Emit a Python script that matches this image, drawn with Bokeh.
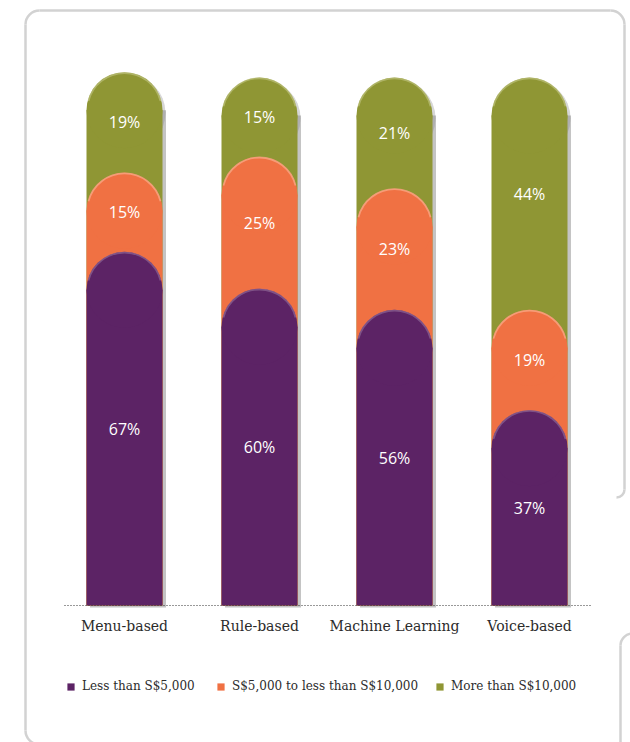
import numpy as np
from bokeh.plotting import figure
from bokeh.models import ColumnDataSource, Range1d, FixedTicker, Legend, LegendItem
from bokeh.core.properties import value
from bokeh.transform import dodge
from bokeh.embed import file_html
from bokeh.resources import INLINE

# ---------------- data ----------------
categories = ["Menu-based", "Rule-based", "Machine Learning", "Voice-based"]
less_than_5k = [67, 60, 56, 37]
from_5k_to_10k = [15, 25, 23, 19]
more_than_10k = [19, 15, 21, 44]
series_names = ["Less than S$5,000", "S$5,000 to less than S$10,000", "More than S$10,000"]

# ---------------- style ----------------
colors = ["#5C2365", "#F07143", "#8F9634"]
rim_colors = ["#9A79A3", "#FBC0A2", "#C9CC8E"]
FRAME_COLOR = "#d2d2d2"
W, H = 630, 742
PX_PER_PCT = 5.28
X_STEP = 135
BASE_PX = 605
FIRST_X_PX = 124

def px_x(px):
    return (px - FIRST_X_PX) / X_STEP

def px_y(py):
    return (BASE_PX - py) / PX_PER_PCT

n = len(categories)
idx = np.arange(n)
s1 = np.array(less_than_5k, dtype=float)
s2 = np.array(from_5k_to_10k, dtype=float)
s3 = np.array(more_than_10k, dtype=float)
cum1 = s1
cum2 = s1 + s2
cum3 = s1 + s2 + s3

bar_w = 76 / X_STEP
cap_ry = 38 / PX_PER_PCT

p = figure(width=W, height=H,
           x_range=Range1d(px_x(0), px_x(W)),
           y_range=Range1d(px_y(H), px_y(0)),
           output_backend="svg", toolbar_location=None, min_border=0)
p.background_fill_color = "white"
p.border_fill_color = "white"
p.outline_line_color = None
p.grid.visible = False
p.yaxis.visible = False

# ---- page frame (rounded panel border) ----
R = 14
L_, T_, R_, B_ = 25, 10, 624, 744
edges_px = [
    [(L_ + R, T_), (R_ - R, T_)],          # top
    [(L_, T_ + R), (L_, B_ - R)],          # left
    [(R_, T_ + R), (R_, 497 - 8)],         # right (upper panel)
    [(620, 645), (620, 760)],              # neighbouring panel edge
]
p.multi_line(xs=[[px_x(a[0]), px_x(b[0])] for a, b in edges_px],
             ys=[[px_y(a[1]), px_y(b[1])] for a, b in edges_px],
             line_color=FRAME_COLOR, line_width=2.5)
corners = [  # (cx, cy, r, start, end)
    (L_ + R, T_ + R, R, np.pi / 2, np.pi),
    (R_ - R, T_ + R, R, 0, np.pi / 2),
    (L_ + R, B_ - R, R, np.pi, 1.5 * np.pi),
    (R_ - 8, 489, 8, 1.5 * np.pi, 2 * np.pi),
    (632, 645, 12, np.pi / 2, np.pi),
]
p.arc(x=[px_x(c[0]) for c in corners], y=[px_y(c[1]) for c in corners],
      radius=[c[2] for c in corners], radius_units="screen",
      start_angle=[c[3] for c in corners], end_angle=[c[4] for c in corners],
      line_color=FRAME_COLOR, line_width=2.5)

# shadow of full stacks
shadow = ColumnDataSource(dict(x=idx, top=cum3 - cap_ry, cy=cum3 - cap_ry - 0.5))
p.vbar(x=dodge("x", 3.5 / X_STEP), bottom=px_y(BASE_PX + 2), top="top", width=bar_w,
       source=shadow, fill_color="#8a8a8a", fill_alpha=0.5, line_color=None)
p.ellipse(x=dodge("x", 3.0 / X_STEP), y="cy", width=bar_w, height=2 * cap_ry,
          source=shadow, fill_color="#8a8a8a", fill_alpha=0.35, line_color=None)

renderers = []
for k, (top, base, vals) in enumerate([(cum3, cum2, s3), (cum2, cum1, s2), (cum1, np.zeros(n), s1)]):
    ci = 2 - k
    src = ColumnDataSource(dict(x=idx, top=top - cap_ry, cy=top - cap_ry,
                                ly=(base + top) / 2,
                                lab=[f"{int(v)}%" for v in vals]))
    r = p.vbar(x="x", bottom=0, top="top", width=bar_w, source=src,
               fill_color=colors[ci], line_color=None)
    p.ellipse(x="x", y="cy", width=bar_w, height=2 * cap_ry, source=src,
              fill_color=colors[ci], line_color=None)
    p.arc(x="x", y="cy", radius=bar_w / 2 - 0.006, start_angle=0.25, end_angle=np.pi - 0.25,
          source=src, line_color=rim_colors[ci], line_width=1.8, line_alpha=0.55)
    p.text(x="x", y="ly", text="lab", source=src, text_color="white",
           text_align="center", text_baseline="middle",
           text_font=value("Open Sans"), text_font_size="16px")
    renderers.append((ci, r))

# baseline (dotted)
p.segment(x0=[px_x(64)], x1=[px_x(591)], y0=[0], y1=[0],
          line_color="#333333", line_width=1, line_dash="1 2")

# category axis
ax = p.xaxis[0]
ax.ticker = FixedTicker(ticks=list(range(n)))
ax.major_label_overrides = {i: c for i, c in enumerate(categories)}
ax.fixed_location = 0
ax.axis_line_color = None
ax.major_tick_line_color = None
ax.minor_tick_line_color = None
ax.major_label_standoff = 6
ax.major_label_text_font = "DejaVu Serif"
ax.major_label_text_font_size = "14px"
ax.major_label_text_color = "#2b2b2b"

# legends
legend_x = [66, 216, 435]
rmap = dict(renderers)
for ci in range(3):
    leg = Legend(items=[LegendItem(label=series_names[ci], renderers=[rmap[ci]])],
                 location=(legend_x[ci], 49), orientation="horizontal",
                 padding=0, margin=0, border_line_color=None, background_fill_alpha=0,
                 glyph_width=9, glyph_height=9, label_standoff=7, label_height=14,
                 label_text_font="DejaVu Serif", label_text_font_size="12px",
                 label_text_color="#2b2b2b")
    p.add_layout(leg)

open("out.html", "w").write(file_html(p, INLINE))
